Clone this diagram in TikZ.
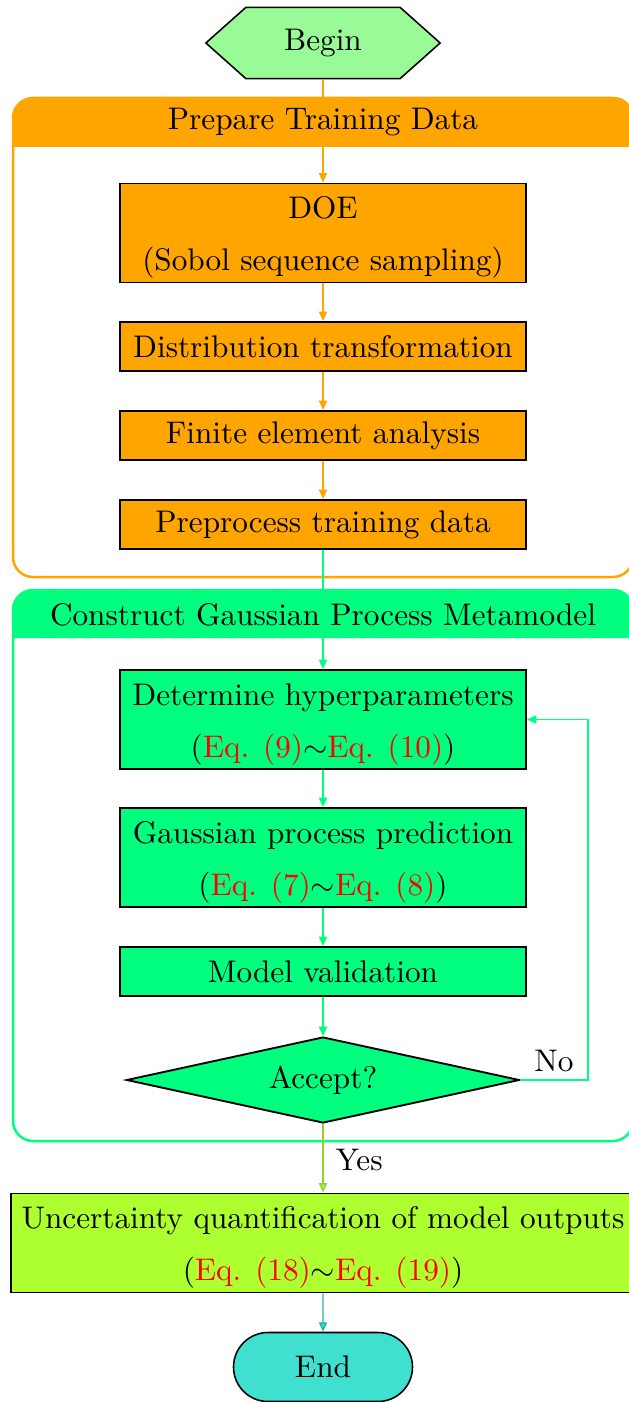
\documentclass[tikz,border=0pt]{standalone}
\usepackage[svgnames]{xcolor}
\usetikzlibrary{shapes.geometric,shapes.misc,arrows.meta,backgrounds}
\newcommand{\pxl}{0.320pt}
\newcommand{\eqr}[1]{\textcolor{red}{#1}}
\newcommand{\topstrut}{\rule{0pt}{10pt}}
\tikzset{
  stepbox/.style={draw=black, line width=0.6pt, inner sep=0pt, align=center,
    minimum width=406*\pxl},
  onebox/.style={stepbox, minimum height=49*\pxl},
  twobox/.style={stepbox, minimum height=99*\pxl},
  flow/.style={line width=0.45pt, -{Triangle[length=3pt,width=2.6pt]}},
  frame/.style={line width=0.8pt, rounded corners=6.4pt},
  title/.style={inner sep=0pt, anchor=center},
}
\begin{document}
\begin{tikzpicture}[x=0.320pt, y=-0.320pt]
\useasboundingbox (0,0) rectangle (629,1402);

% --- group frames with their header bands
\fill[Orange] (13,147) {[rounded corners=6.4pt] -- (13,98) -- (633,98)} -- (633,147) -- cycle;
\draw[frame, Orange] (13,98) rectangle (633,577);

\fill[SpringGreen] (13,638) {[rounded corners=6.4pt] -- (13,590) -- (633,590)} -- (633,638) -- cycle;
\draw[frame, SpringGreen] (13,590) rectangle (633,1141);

% --- start
\node[minimum width=233*\pxl, minimum height=70*\pxl, inner sep=0pt] (begin) at (323,43) {Begin};
\begin{scope}[on background layer]
  \draw[fill=PaleGreen, line width=0.5pt]
    (begin.west) -- ([xshift=40*\pxl]begin.north west) -- ([xshift=-40*\pxl]begin.north east)
    -- (begin.east) -- ([xshift=-40*\pxl]begin.south east) -- ([xshift=40*\pxl]begin.south west) -- cycle;
\end{scope}

% --- training data steps
\node[twobox, fill=Orange] (doe) at (323,233) {\topstrut DOE\\[4.6pt](Sobol sequence sampling)};
\node[onebox, fill=Orange] (dist) at (323,346.5) {Distribution transformation};
\node[onebox, fill=Orange] (fea) at (323,435.5) {Finite element analysis};
\node[onebox, fill=Orange] (prep) at (323,524.5) {Preprocess training data};

% --- metamodel steps
\node[twobox, fill=SpringGreen] (hyper) at (323,719.5) {\topstrut Determine hyperparameters\\[4.6pt](\eqr{Eq. (9)}$\sim$\eqr{Eq. (10)})};
\node[twobox, fill=SpringGreen] (gpp) at (323,857.5) {\topstrut Gaussian process prediction\\[4.6pt](\eqr{Eq. (7)}$\sim$\eqr{Eq. (8)})};
\node[onebox, fill=SpringGreen] (valid) at (323,971.5) {Model validation};
\node[diamond, draw=black, line width=0.6pt, fill=SpringGreen, inner sep=0pt, aspect=4.57,
      minimum width=393*\pxl, minimum height=86*\pxl] (accept) at (323,1080) {Accept?};

% --- output and end
\node[stepbox, fill=GreenYellow, minimum width=624*\pxl, minimum height=99*\pxl] (uq) at (323,1243)
  {\topstrut Uncertainty quantification of model outputs\\[4.6pt](\eqr{Eq. (18)}$\sim$\eqr{Eq. (19)})};
\node[rounded rectangle, draw=black, line width=0.5pt, fill=Turquoise, inner sep=0pt,
      minimum width=179*\pxl, minimum height=69*\pxl] (stop) at (323,1367) {End};

% --- connectors
\draw[flow, Orange] (begin) -- (doe);
\draw[flow, Orange] (doe) -- (dist);
\draw[flow, Orange] (dist) -- (fea);
\draw[flow, Orange] (fea) -- (prep);
\draw[flow, SpringGreen] (prep) -- (hyper);
\draw[flow, SpringGreen] (hyper) -- (gpp);
\draw[flow, SpringGreen] (gpp) -- (valid);
\draw[flow, SpringGreen] (valid) -- (accept);
\coordinate (noturn) at (588,1080);
\draw[flow, SpringGreen] (accept.east) -- (noturn) |- (hyper.east);
\node[title] (nolbl) at (554,1061) {No};
\draw[line width=0.45pt, YellowGreen, -{Triangle[length=3pt,width=2.6pt,fill=GreenYellow]}] (accept) -- (uq);
\node[title, anchor=west] (yeslbl) at (335,1160) {Yes};
\draw[line width=0.45pt, LightSeaGreen, -{Triangle[length=3pt,width=2.6pt,fill=Turquoise]}] (uq) -- (stop);

% --- header titles, set over the connectors that cross the bands
\fill[Orange] (120,99) rectangle (527,146);
\node[title] (hdrA) at (323,122) {Prepare Training Data};
\fill[SpringGreen] (40,591) rectangle (606,637);
\node[title] (hdrB) at (323,615) {Construct Gaussian Process Metamodel};
\end{tikzpicture}
\end{document}
